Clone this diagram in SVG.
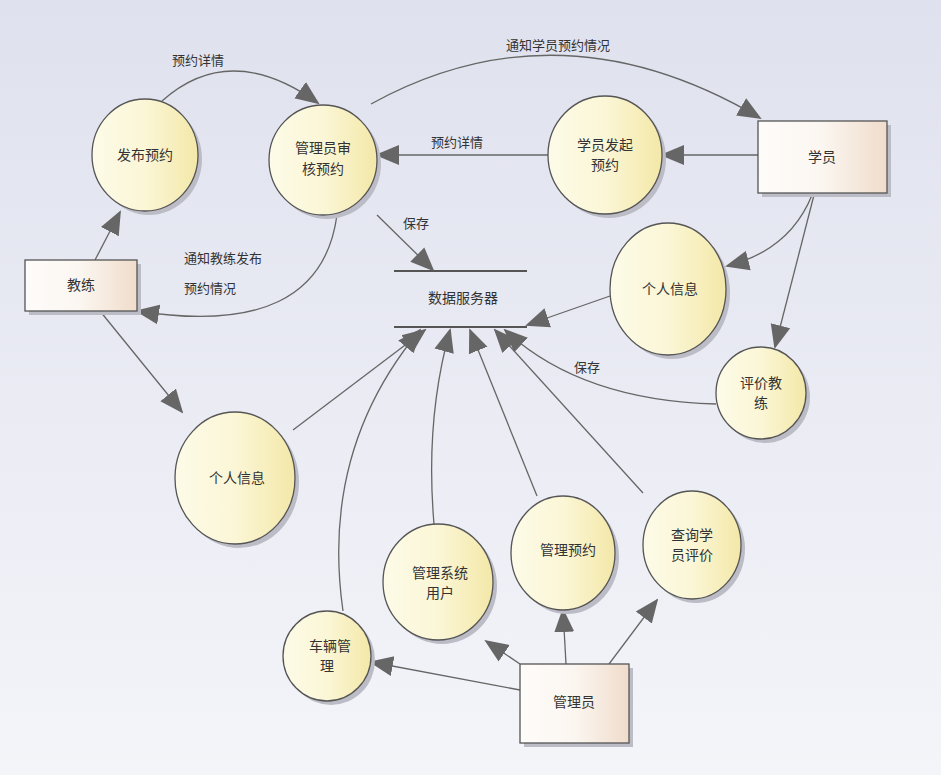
<svg xmlns="http://www.w3.org/2000/svg" width="941" height="775" viewBox="0 0 941 775">
<defs>
<linearGradient id="bg" x1="0" y1="0" x2="0" y2="1"><stop offset="0" stop-color="#dfe1ee"/><stop offset="1" stop-color="#f4f5f9"/></linearGradient>
<linearGradient id="cf" x1="0" y1="0" x2="1" y2="0"><stop offset="0" stop-color="#fdfbe8"/><stop offset="0.5" stop-color="#fbf6d6"/><stop offset="1" stop-color="#f3e8a8"/></linearGradient>
<linearGradient id="rf" x1="0" y1="0" x2="1" y2="0"><stop offset="0" stop-color="#fefcfa"/><stop offset="0.5" stop-color="#fbf6f0"/><stop offset="1" stop-color="#f0dccb"/></linearGradient>
<marker id="ah" markerUnits="userSpaceOnUse" markerWidth="24" markerHeight="24" viewBox="0 0 24 24" refX="22" refY="12" orient="auto"><path d="M0,2 L24,12 L0,22 Z" fill="#666"/></marker>
<style>
.c{fill:url(#cf);stroke:#555;stroke-width:1.3}
.r{fill:url(#rf);stroke:#555;stroke-width:1.3}
.sh{fill:#bbbcc6}
.t{font-family:"Noto Sans CJK SC",sans-serif;font-size:14px;fill:#333;text-anchor:middle}
.l{font-family:"Noto Sans CJK SC",sans-serif;font-size:13px;fill:#333}
.e{fill:none;stroke:#666;stroke-width:1.3;marker-end:url(#ah)}
</style>
</defs>
<rect width="941" height="775" fill="url(#bg)"/>
<g id="connectors">
<path class="e" d="M95,260 L120,212"/>
<path class="e" d="M162,101 Q230,40 318,103"/>
<path class="e" d="M371,104 Q560,0 760,118"/>
<path class="e" d="M758,155 L662,155"/>
<path class="e" d="M548,155 L377,155"/>
<path class="e" d="M337,215 Q320,340 137,311"/>
<path class="e" d="M377,215 L433,270"/>
<path class="e" d="M812,195 Q790,250 727,266"/>
<path class="e" d="M814,195 L775,347"/>
<path class="e" d="M610,296 L527,325"/>
<path class="e" d="M716,404 Q580,400 505,330"/>
<path class="e" d="M100,311 L182,412"/>
<path class="e" d="M293,430 L425,330"/>
<path class="e" d="M343,611 Q320,450 420,330"/>
<path class="e" d="M434,524 Q425,420 450,330"/>
<path class="e" d="M537,496 L470,330"/>
<path class="e" d="M643,493 L495,330"/>
<path class="e" d="M520,690 L371,662"/>
<path class="e" d="M520,664 L486,641"/>
<path class="e" d="M566,664 L563,610"/>
<path class="e" d="M609,664 L657,600"/>
<text class="l" x="172" y="65">预约详情</text>
<text class="l" x="506" y="50">通知学员预约情况</text>
<text class="l" x="431" y="147">预约详情</text>
<text class="l" x="184" y="263">通知教练发布</text>
<text class="l" x="184" y="293">预约情况</text>
<text class="l" x="403" y="228">保存</text>
<text class="l" x="574" y="372">保存</text>
</g>
<g id="ds">
<line x1="394" y1="271" x2="527" y2="271" stroke="#555" stroke-width="2"/>
<line x1="394" y1="327" x2="527" y2="327" stroke="#555" stroke-width="2"/>
<text class="t" x="463" y="303">数据服务器</text>
</g>
<g id="n1"><ellipse class="sh" cx="149" cy="159" rx="53" ry="56"/><ellipse class="c" cx="145" cy="155" rx="53" ry="56"/><text class="t" x="145" y="160">发布预约</text></g>
<g id="n2"><ellipse class="sh" cx="327" cy="164" rx="54" ry="55"/><ellipse class="c" cx="323" cy="160" rx="54" ry="55"/><text class="t" x="323" y="153">管理员审</text><text class="t" x="323" y="174">核预约</text></g>
<g id="n3"><ellipse class="sh" cx="609" cy="159" rx="57" ry="59"/><ellipse class="c" cx="605" cy="155" rx="57" ry="59"/><text class="t" x="605" y="150">学员发起</text><text class="t" x="605" y="170">预约</text></g>
<g id="n4"><ellipse class="sh" cx="672" cy="293" rx="58" ry="66"/><ellipse class="c" cx="668" cy="289" rx="58" ry="66"/><text class="t" x="670" y="294">个人信息</text></g>
<g id="n5"><ellipse class="sh" cx="765" cy="397" rx="45" ry="46"/><ellipse class="c" cx="761" cy="393" rx="45" ry="46"/><text class="t" x="761" y="388">评价教</text><text class="t" x="761" y="408">练</text></g>
<g id="n6"><ellipse class="sh" cx="239" cy="482" rx="60" ry="66"/><ellipse class="c" cx="235" cy="478" rx="60" ry="66"/><text class="t" x="237" y="483">个人信息</text></g>
<g id="n7"><ellipse class="sh" cx="442" cy="586" rx="55" ry="58"/><ellipse class="c" cx="438" cy="582" rx="55" ry="58"/><text class="t" x="440" y="578">管理系统</text><text class="t" x="440" y="598">用户</text></g>
<g id="n8"><ellipse class="sh" cx="567" cy="557" rx="52" ry="57"/><ellipse class="c" cx="563" cy="553" rx="52" ry="57"/><text class="t" x="568" y="555">管理预约</text></g>
<g id="n9"><ellipse class="sh" cx="696" cy="549" rx="49" ry="54"/><ellipse class="c" cx="692" cy="545" rx="49" ry="54"/><text class="t" x="692" y="540">查询学</text><text class="t" x="692" y="560">员评价</text></g>
<g id="n10"><ellipse class="sh" cx="331" cy="660" rx="44" ry="45"/><ellipse class="c" cx="327" cy="656" rx="44" ry="45"/><text class="t" x="330" y="651">车辆管</text><text class="t" x="327" y="671">理</text></g>
<g id="coach"><rect class="sh" x="29" y="264" width="112" height="51"/><rect class="r" x="25" y="260" width="112" height="51"/><text class="t" x="81" y="290">教练</text></g>
<g id="student"><rect class="sh" x="762" y="125" width="129" height="72"/><rect class="r" x="758" y="121" width="129" height="72"/><text class="t" x="822" y="162">学员</text></g>
<g id="admin"><rect class="sh" x="524" y="668" width="109" height="79"/><rect class="r" x="520" y="664" width="109" height="79"/><text class="t" x="574" y="707">管理员</text></g>
</svg>
